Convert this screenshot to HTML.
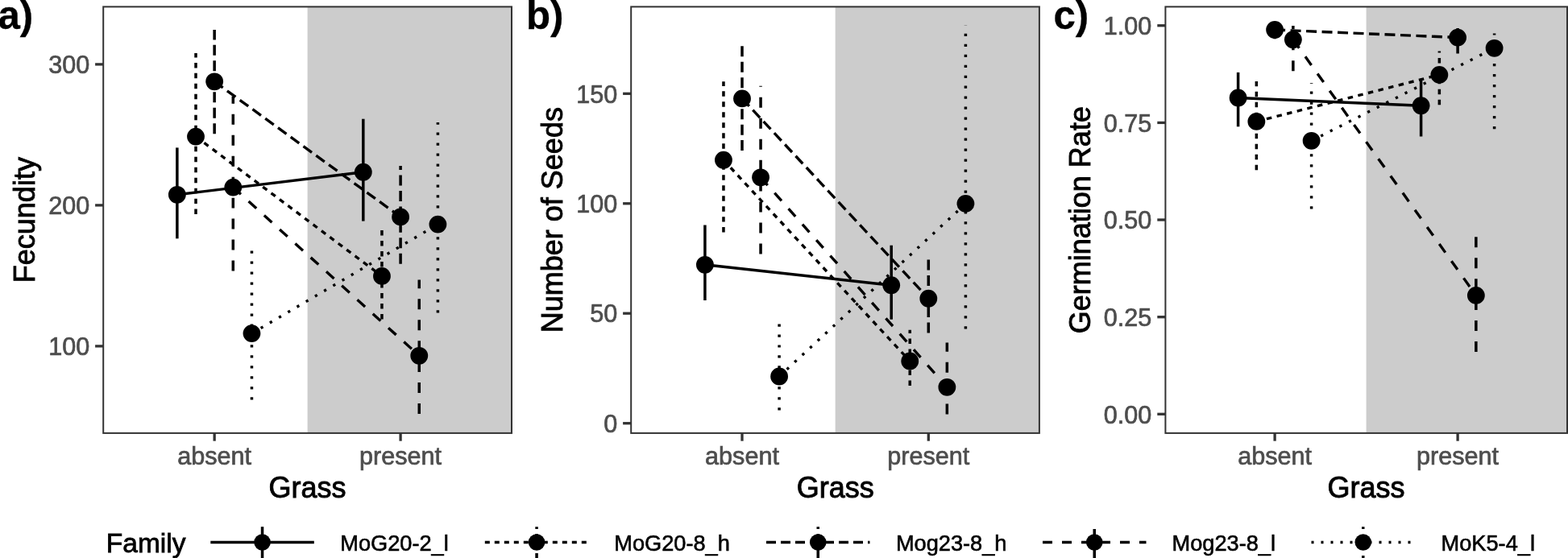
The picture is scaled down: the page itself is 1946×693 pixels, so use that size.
<!DOCTYPE html>
<html><head><meta charset="utf-8"><title>Figure</title>
<style>
html,body{margin:0;padding:0;background:#fff;}
body{width:1946px;height:693px;overflow:hidden;}
svg{display:block;font-family:'Liberation Sans', Arial, Helvetica, sans-serif;}
.tk{font-size:30.6px;fill:#4D4D4D;stroke:#4D4D4D;stroke-width:0.7;}
.ti{font-size:36px;fill:#000;stroke:#000;stroke-width:0.9;}
.lt{font-size:33.5px;fill:#000;stroke:#000;stroke-width:0.8;}
.ll{font-size:27.2px;fill:#000;stroke:#000;stroke-width:0.6;}
.tag{font-size:49.2px;font-weight:bold;fill:#000;stroke:#000;stroke-width:0.3;}
</style></head><body>
<svg width="1946" height="693" viewBox="0 0 1946 693">
<rect x="0" y="0" width="1946" height="693" fill="#FFFFFF"/>
<g><rect x="381.62" y="8.4" width="253.38" height="529.5" fill="#CCCCCC"/><line x1="219.85" y1="241.8" x2="450.8" y2="213.7" stroke="#000" stroke-width="3.4"/><line x1="243" y1="169.6" x2="473.95" y2="342.9" stroke="#000" stroke-width="3.4" stroke-dasharray="6.500,6.500"/><line x1="266.15" y1="101.3" x2="497.1" y2="269.4" stroke="#000" stroke-width="3.4" stroke-dasharray="13.000,6.500"/><line x1="289.3" y1="232.6" x2="520.25" y2="441.8" stroke="#000" stroke-width="3.4" stroke-dasharray="13.000,13.000"/><line x1="312.45" y1="414.1" x2="543.4" y2="278.6" stroke="#000" stroke-width="3.4" stroke-dasharray="3.250,9.750"/><line x1="219.85" y1="296.3" x2="219.85" y2="183.4" stroke="#000" stroke-width="3.5"/><circle cx="219.85" cy="241.8" r="10.9" fill="#000"/><line x1="450.8" y1="274.6" x2="450.8" y2="147.7" stroke="#000" stroke-width="3.5"/><circle cx="450.8" cy="213.7" r="10.9" fill="#000"/><line x1="243" y1="266.1" x2="243" y2="66.1" stroke="#000" stroke-width="3.5" stroke-dasharray="6.490,6.490"/><circle cx="243" cy="169.6" r="10.9" fill="#000"/><line x1="473.95" y1="396.4" x2="473.95" y2="285.7" stroke="#000" stroke-width="3.5" stroke-dasharray="6.490,6.490"/><circle cx="473.95" cy="342.9" r="10.9" fill="#000"/><line x1="266.15" y1="166.2" x2="266.15" y2="37.1" stroke="#000" stroke-width="3.5" stroke-dasharray="12.980,6.490"/><circle cx="266.15" cy="101.3" r="10.9" fill="#000"/><line x1="497.1" y1="327.8" x2="497.1" y2="206" stroke="#000" stroke-width="3.5" stroke-dasharray="12.980,6.490"/><circle cx="497.1" cy="269.4" r="10.9" fill="#000"/><line x1="289.3" y1="336.5" x2="289.3" y2="119.6" stroke="#000" stroke-width="3.5" stroke-dasharray="12.980,12.980"/><circle cx="289.3" cy="232.6" r="10.9" fill="#000"/><line x1="520.25" y1="514" x2="520.25" y2="347.4" stroke="#000" stroke-width="3.5" stroke-dasharray="12.980,12.980"/><circle cx="520.25" cy="441.8" r="10.9" fill="#000"/><line x1="312.45" y1="496.5" x2="312.45" y2="311" stroke="#000" stroke-width="3.5" stroke-dasharray="3.245,9.735"/><circle cx="312.45" cy="414.1" r="10.9" fill="#000"/><line x1="543.4" y1="388.4" x2="543.4" y2="152.1" stroke="#000" stroke-width="3.5" stroke-dasharray="3.245,9.735"/><circle cx="543.4" cy="278.6" r="10.9" fill="#000"/></g>
<rect x="128.2" y="8.4" width="506.8" height="529.5" fill="none" stroke="#333333" stroke-width="2"/>
<line x1="118.1" y1="79.9" x2="128.2" y2="79.9" stroke="#333333" stroke-width="3.3"/>
<text x="111.2" y="91.1" text-anchor="end" class="tk">300</text>
<line x1="118.1" y1="254.9" x2="128.2" y2="254.9" stroke="#333333" stroke-width="3.3"/>
<text x="111.2" y="266.1" text-anchor="end" class="tk">200</text>
<line x1="118.1" y1="429.9" x2="128.2" y2="429.9" stroke="#333333" stroke-width="3.3"/>
<text x="111.2" y="441.1" text-anchor="end" class="tk">100</text>
<line x1="266.15" y1="537.9" x2="266.15" y2="547.7" stroke="#333333" stroke-width="3.3"/>
<text x="266.15" y="577.2" text-anchor="middle" class="tk">absent</text>
<line x1="497.1" y1="537.9" x2="497.1" y2="547.7" stroke="#333333" stroke-width="3.3"/>
<text x="497.1" y="577.2" text-anchor="middle" class="tk">present</text>
<text x="381.62" y="618.1" text-anchor="middle" class="ti">Grass</text>
<text transform="translate(43 273.15) rotate(-90)" x="0" y="0" text-anchor="middle" class="ti">Fecundity</text>
<text x="-2.5" y="36.2" class="tag">a)</text>
<g><rect x="1036.65" y="8.4" width="253.25" height="529.5" fill="#CCCCCC"/><line x1="874.9" y1="328.8" x2="1106.2" y2="354.2" stroke="#000" stroke-width="3.4"/><line x1="897.95" y1="198.7" x2="1129.25" y2="448.5" stroke="#000" stroke-width="3.4" stroke-dasharray="6.500,6.500"/><line x1="921" y1="122.4" x2="1152.3" y2="370.7" stroke="#000" stroke-width="3.4" stroke-dasharray="13.000,6.500"/><line x1="944.05" y1="220.3" x2="1175.35" y2="480.8" stroke="#000" stroke-width="3.4" stroke-dasharray="13.000,13.000"/><line x1="967.1" y1="467.5" x2="1198.4" y2="252.9" stroke="#000" stroke-width="3.4" stroke-dasharray="3.250,9.750"/><line x1="874.9" y1="373" x2="874.9" y2="279.5" stroke="#000" stroke-width="3.5"/><circle cx="874.9" cy="328.8" r="10.9" fill="#000"/><line x1="1106.2" y1="396.7" x2="1106.2" y2="304.7" stroke="#000" stroke-width="3.5"/><circle cx="1106.2" cy="354.2" r="10.9" fill="#000"/><line x1="897.95" y1="288.6" x2="897.95" y2="101.3" stroke="#000" stroke-width="3.5" stroke-dasharray="6.490,6.490"/><circle cx="897.95" cy="198.7" r="10.9" fill="#000"/><line x1="1129.25" y1="479" x2="1129.25" y2="409.7" stroke="#000" stroke-width="3.5" stroke-dasharray="6.490,6.490"/><circle cx="1129.25" cy="448.5" r="10.9" fill="#000"/><line x1="921" y1="187.1" x2="921" y2="57.2" stroke="#000" stroke-width="3.5" stroke-dasharray="12.980,6.490"/><circle cx="921" cy="122.4" r="10.9" fill="#000"/><line x1="1152.3" y1="413.4" x2="1152.3" y2="322.4" stroke="#000" stroke-width="3.5" stroke-dasharray="12.980,6.490"/><circle cx="1152.3" cy="370.7" r="10.9" fill="#000"/><line x1="944.05" y1="315.5" x2="944.05" y2="106.7" stroke="#000" stroke-width="3.5" stroke-dasharray="12.980,12.980"/><circle cx="944.05" cy="220.3" r="10.9" fill="#000"/><line x1="1175.35" y1="514.6" x2="1175.35" y2="425.6" stroke="#000" stroke-width="3.5" stroke-dasharray="12.980,12.980"/><circle cx="1175.35" cy="480.8" r="10.9" fill="#000"/><line x1="967.1" y1="509.5" x2="967.1" y2="402.3" stroke="#000" stroke-width="3.5" stroke-dasharray="3.245,9.735"/><circle cx="967.1" cy="467.5" r="10.9" fill="#000"/><line x1="1198.4" y1="408.4" x2="1198.4" y2="31.8" stroke="#000" stroke-width="3.5" stroke-dasharray="3.245,9.735"/><circle cx="1198.4" cy="252.9" r="10.9" fill="#000"/></g>
<rect x="783.2" y="8.4" width="506.7" height="529.5" fill="none" stroke="#333333" stroke-width="2"/>
<line x1="773.1" y1="116.3" x2="783.2" y2="116.3" stroke="#333333" stroke-width="3.3"/>
<text x="766.2" y="127.5" text-anchor="end" class="tk">150</text>
<line x1="773.1" y1="252.76" x2="783.2" y2="252.76" stroke="#333333" stroke-width="3.3"/>
<text x="766.2" y="263.96" text-anchor="end" class="tk">100</text>
<line x1="773.1" y1="389.2" x2="783.2" y2="389.2" stroke="#333333" stroke-width="3.3"/>
<text x="766.2" y="400.4" text-anchor="end" class="tk">50</text>
<line x1="773.1" y1="525.7" x2="783.2" y2="525.7" stroke="#333333" stroke-width="3.3"/>
<text x="766.2" y="536.9" text-anchor="end" class="tk">0</text>
<line x1="921" y1="537.9" x2="921" y2="547.7" stroke="#333333" stroke-width="3.3"/>
<text x="921" y="577.2" text-anchor="middle" class="tk">absent</text>
<line x1="1152.3" y1="537.9" x2="1152.3" y2="547.7" stroke="#333333" stroke-width="3.3"/>
<text x="1152.3" y="577.2" text-anchor="middle" class="tk">present</text>
<text x="1036.65" y="618.1" text-anchor="middle" class="ti">Grass</text>
<text transform="translate(698.3 273.15) rotate(-90)" x="0" y="0" text-anchor="middle" class="ti">Number of Seeds</text>
<text x="652.9" y="36.2" class="tag">b)</text>
<g><rect x="1695.6" y="8.4" width="249.4" height="529.5" fill="#CCCCCC"/><line x1="1536.6" y1="121.5" x2="1763.6" y2="131.2" stroke="#000" stroke-width="3.4"/><line x1="1559.35" y1="150.9" x2="1786.35" y2="92.9" stroke="#000" stroke-width="3.4" stroke-dasharray="6.500,6.500"/><line x1="1582.1" y1="37" x2="1809.1" y2="46.6" stroke="#000" stroke-width="3.4" stroke-dasharray="13.000,6.500"/><line x1="1604.85" y1="49.2" x2="1831.85" y2="366.9" stroke="#000" stroke-width="3.4" stroke-dasharray="13.000,13.000"/><line x1="1627.6" y1="174.8" x2="1854.6" y2="59.8" stroke="#000" stroke-width="3.4" stroke-dasharray="3.250,9.750"/><line x1="1536.6" y1="157.3" x2="1536.6" y2="89.9" stroke="#000" stroke-width="3.5"/><circle cx="1536.6" cy="121.5" r="10.9" fill="#000"/><line x1="1763.6" y1="169.5" x2="1763.6" y2="98.4" stroke="#000" stroke-width="3.5"/><circle cx="1763.6" cy="131.2" r="10.9" fill="#000"/><line x1="1559.35" y1="211.2" x2="1559.35" y2="100.9" stroke="#000" stroke-width="3.5" stroke-dasharray="6.490,6.490"/><circle cx="1559.35" cy="150.9" r="10.9" fill="#000"/><line x1="1786.35" y1="130.3" x2="1786.35" y2="63.6" stroke="#000" stroke-width="3.5" stroke-dasharray="6.490,6.490"/><circle cx="1786.35" cy="92.9" r="10.9" fill="#000"/><line x1="1582.1" y1="48.3" x2="1582.1" y2="31" stroke="#000" stroke-width="3.5" stroke-dasharray="12.980,6.490"/><circle cx="1582.1" cy="37" r="10.9" fill="#000"/><line x1="1809.1" y1="66.6" x2="1809.1" y2="35" stroke="#000" stroke-width="3.5" stroke-dasharray="12.980,6.490"/><circle cx="1809.1" cy="46.6" r="10.9" fill="#000"/><line x1="1604.85" y1="88.2" x2="1604.85" y2="32.1" stroke="#000" stroke-width="3.5" stroke-dasharray="12.980,12.980"/><circle cx="1604.85" cy="49.2" r="10.9" fill="#000"/><line x1="1831.85" y1="437" x2="1831.85" y2="294.2" stroke="#000" stroke-width="3.5" stroke-dasharray="12.980,12.980"/><circle cx="1831.85" cy="366.9" r="10.9" fill="#000"/><line x1="1627.6" y1="259.5" x2="1627.6" y2="102.9" stroke="#000" stroke-width="3.5" stroke-dasharray="3.245,9.735"/><circle cx="1627.6" cy="174.8" r="10.9" fill="#000"/><line x1="1854.6" y1="160.2" x2="1854.6" y2="41.6" stroke="#000" stroke-width="3.5" stroke-dasharray="3.245,9.735"/><circle cx="1854.6" cy="59.8" r="10.9" fill="#000"/></g>
<rect x="1446.4" y="8.4" width="498.6" height="529.5" fill="none" stroke="#333333" stroke-width="2"/>
<line x1="1436.3" y1="31.75" x2="1446.4" y2="31.75" stroke="#333333" stroke-width="3.3"/>
<text x="1429.4" y="42.95" text-anchor="end" class="tk">1.00</text>
<line x1="1436.3" y1="152.4" x2="1446.4" y2="152.4" stroke="#333333" stroke-width="3.3"/>
<text x="1429.4" y="163.6" text-anchor="end" class="tk">0.75</text>
<line x1="1436.3" y1="273" x2="1446.4" y2="273" stroke="#333333" stroke-width="3.3"/>
<text x="1429.4" y="284.2" text-anchor="end" class="tk">0.50</text>
<line x1="1436.3" y1="393.7" x2="1446.4" y2="393.7" stroke="#333333" stroke-width="3.3"/>
<text x="1429.4" y="404.9" text-anchor="end" class="tk">0.25</text>
<line x1="1436.3" y1="514.3" x2="1446.4" y2="514.3" stroke="#333333" stroke-width="3.3"/>
<text x="1429.4" y="525.5" text-anchor="end" class="tk">0.00</text>
<line x1="1582.1" y1="537.9" x2="1582.1" y2="547.7" stroke="#333333" stroke-width="3.3"/>
<text x="1582.1" y="577.2" text-anchor="middle" class="tk">absent</text>
<line x1="1809.1" y1="537.9" x2="1809.1" y2="547.7" stroke="#333333" stroke-width="3.3"/>
<text x="1809.1" y="577.2" text-anchor="middle" class="tk">present</text>
<text x="1695.6" y="618.1" text-anchor="middle" class="ti">Grass</text>
<text transform="translate(1353.3 273.15) rotate(-90)" x="0" y="0" text-anchor="middle" class="ti">Germination Rate</text>
<text x="1307.5" y="36.2" class="tag">c)</text>
<text x="131.8" y="685.9" class="lt">Family</text>
<line x1="261.3" y1="673.5" x2="389.8" y2="673.5" stroke="#000" stroke-width="3.4"/>
<line x1="325.55" y1="717" x2="325.55" y2="654.2" stroke="#000" stroke-width="3.5"/>
<circle cx="325.55" cy="673.5" r="10.3" fill="#000"/>
<text x="422.25" y="683.6" class="ll">MoG20-2_l</text>
<line x1="601.8" y1="673.5" x2="730.3" y2="673.5" stroke="#000" stroke-width="3.4" stroke-dasharray="6.000,6.000"/>
<line x1="666.05" y1="705" x2="666.05" y2="654.2" stroke="#000" stroke-width="3.5" stroke-dasharray="6.000,6.000"/>
<circle cx="666.05" cy="673.5" r="10.3" fill="#000"/>
<text x="762.25" y="683.6" class="ll">MoG20-8_h</text>
<line x1="951" y1="673.5" x2="1079.5" y2="673.5" stroke="#000" stroke-width="3.4" stroke-dasharray="12.000,6.000"/>
<line x1="1015.25" y1="711" x2="1015.25" y2="654.2" stroke="#000" stroke-width="3.5" stroke-dasharray="12.000,6.000"/>
<circle cx="1015.25" cy="673.5" r="10.3" fill="#000"/>
<text x="1111.9" y="683.6" class="ll">Mog23-8_h</text>
<line x1="1294" y1="673.5" x2="1422.5" y2="673.5" stroke="#000" stroke-width="3.4" stroke-dasharray="12.000,12.000"/>
<line x1="1358.25" y1="717" x2="1358.25" y2="654.2" stroke="#000" stroke-width="3.5" stroke-dasharray="12.000,12.000"/>
<circle cx="1358.25" cy="673.5" r="10.3" fill="#000"/>
<text x="1454.5" y="683.6" class="ll">Mog23-8_l</text>
<line x1="1627.5" y1="673.5" x2="1756" y2="673.5" stroke="#000" stroke-width="3.4" stroke-dasharray="3.000,9.000"/>
<line x1="1691.75" y1="705" x2="1691.75" y2="654.2" stroke="#000" stroke-width="3.5" stroke-dasharray="3.000,9.000"/>
<circle cx="1691.75" cy="673.5" r="10.3" fill="#000"/>
<text x="1788.6" y="683.6" class="ll">MoK5-4_l</text>
</svg>
</body></html>
